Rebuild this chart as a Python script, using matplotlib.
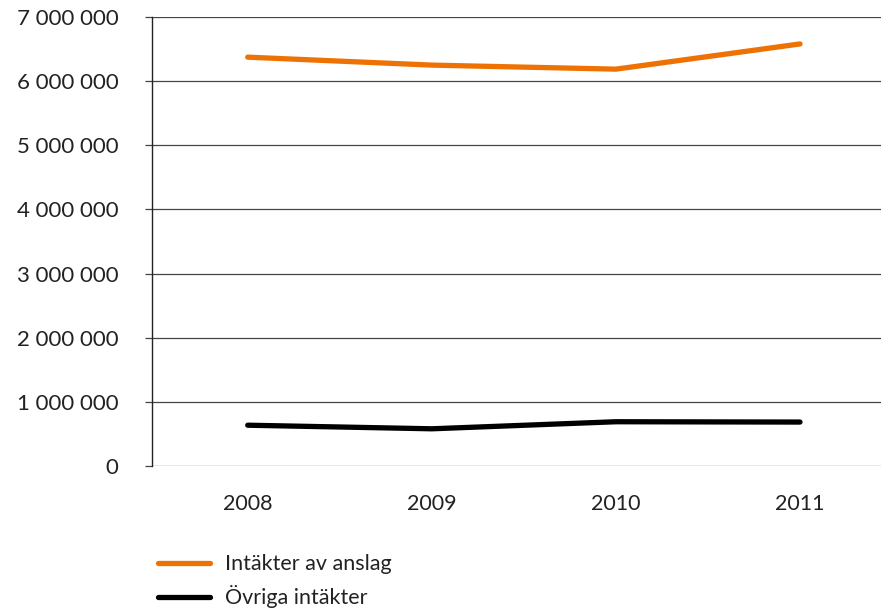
import matplotlib.pyplot as plt
from matplotlib.ticker import FuncFormatter

plt.rcParams['font.family'] = ['Lato', 'DejaVu Sans']

# Data
years = ['2008', '2009', '2010', '2011']
anslag = [6374000, 6250000, 6187000, 6580000]
ovriga = [636000, 580000, 690000, 685000]
y_ticks = [0, 1000000, 2000000, 3000000, 4000000, 5000000, 6000000, 7000000]

fig = plt.figure(figsize=(8.81, 6.12), dpi=100)
ax = fig.add_axes([152 / 881, 146 / 612, 729 / 881, 449 / 612])

x = list(range(len(years)))
ax.plot(x, anslag, color='#ee7203', lw=3.8, solid_capstyle='round',
        solid_joinstyle='round', label='Intäkter av anslag')
ax.plot(x, ovriga, color='black', lw=3.8, solid_capstyle='round',
        solid_joinstyle='round', label='Övriga intäkter')

ax.set_xlim(-0.52, 3.44)
ax.set_ylim(0, 7000000)
ax.set_xticks(x)
ax.set_xticklabels(years)
ax.set_yticks(y_ticks)
ax.yaxis.set_major_formatter(FuncFormatter(lambda v, p: f'{int(v):,}'.replace(',', ' ')))

ax.grid(axis='y', color='#444444', lw=0.9)
ax.set_axisbelow(True)
for s in ['top', 'right', 'bottom']:
    ax.spines[s].set_visible(False)
ax.spines['left'].set_color('#222222')
ax.spines['left'].set_linewidth(1.0)

ax.tick_params(axis='x', length=0, pad=20, labelsize=15.5, labelcolor='#222222')
ax.tick_params(axis='y', length=5, width=0.9, color='#444444', pad=19,
               labelsize=16, labelcolor='#222222')

fig.legend(loc='upper left', bbox_to_anchor=(139 / 881, 1 - 535 / 612),
           frameon=False, fontsize=15.5, handlelength=2.4, handletextpad=0.7,
           labelspacing=0.5, labelcolor='#222222')

fig.savefig('out.png', dpi=100)
